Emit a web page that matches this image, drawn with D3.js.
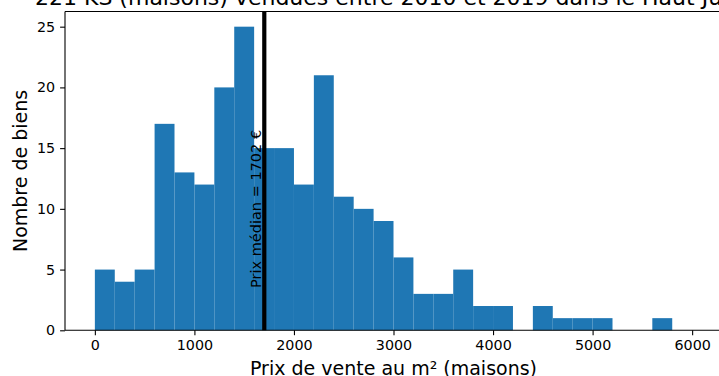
<!DOCTYPE html>
<html>
<head>
<meta charset="utf-8">
<script src="https://cdn.jsdelivr.net/npm/d3@7"></script>
<style>
    body { margin: 0; background: #ffffff; }
    svg { display: block; font-family: "DejaVu Sans", sans-serif; }
    .bar { fill: #1f77b4; }
    .spine { stroke: #000000; stroke-width: 1.1; fill: none; }
    .tick line { stroke: #000000; stroke-width: 1.1; }
    .tick text { font-size: 14.3px; fill: #000000; }
    .label { font-size: 19px; fill: #000000; }
    .median { stroke: #000000; stroke-width: 4.2; }
</style>
</head>
<body>
<div id="chart"></div>
<script>
// histogram bins (price per m², width 200) and house counts per bin
var binStarts = [0, 200, 400, 600, 800, 1000, 1200, 1400, 1600, 1800,
    2000, 2200, 2400, 2600, 2800, 3000, 3200, 3400, 3600, 3800,
    4000, 4200, 4400, 4600, 4800, 5000, 5200, 5400, 5600, 5800];
var binWidth = 200;
var counts = [5, 4, 5, 17, 13, 12, 20, 25, 15, 15,
    12, 21, 11, 10, 9, 6, 3, 3, 5, 2,
    2, 0, 2, 1, 1, 1, 0, 0, 1, 0];
var medianPrice = 1702;
var xTicks = [0, 1000, 2000, 3000, 4000, 5000, 6000];
var yTicks = [0, 5, 10, 15, 20, 25];

var titleText = '221 KS (maisons) vendues entre 2010 et 2019 dans le Haut Jura';
var xLabel = 'Prix de vente au m² (maisons)';
var yLabel = 'Nombre de biens';
var medianLabel = 'Prix médian = ' + medianPrice + ' €';

function main(domSelector) {
    var width = 719;
    var height = 376;
    // axes box; right edge falls outside the picture like in the original
    var plot = {left: 65, right: 722, top: 11.5, bottom: 330.3};

    var svg = d3.select(domSelector).append('svg')
        .attr('width', width)
        .attr('height', height);

    var xScale = d3.scaleLinear().domain([-300, 6300]).range([plot.left, plot.right]);
    var yScale = d3.scaleLinear().domain([0, 26.25]).range([plot.bottom, plot.top]);

    var bins = binStarts.map(function (x0, i) {
        return {x0: x0, x1: x0 + binWidth, n: counts[i]};
    });

    svg.selectAll('rect.bar')
        .data(bins.filter(function (d) { return d.n > 0; }))
        .enter()
        .append('rect')
        .attr('class', 'bar')
        .attr('x', function (d) { return xScale(d.x0); })
        .attr('width', function (d) { return xScale(d.x1) - xScale(d.x0); })
        .attr('y', function (d) { return yScale(d.n); })
        .attr('height', function (d) { return yScale(0) - yScale(d.n); })
    ;

    // median line + rotated label
    svg.append('line')
        .attr('class', 'median')
        .attr('x1', xScale(medianPrice)).attr('y1', plot.top)
        .attr('x2', xScale(medianPrice)).attr('y2', plot.bottom)
    ;
    svg.append('text')
        .attr('transform', 'translate(' + (xScale(medianPrice) - 3) + ',' + 288 + ') rotate(-90)')
        .style('font-size', '14.5px')
        .text(medianLabel)
    ;

    // spines
    svg.append('line').attr('class', 'spine')
        .attr('x1', plot.left).attr('y1', plot.top).attr('x2', plot.left).attr('y2', plot.bottom);
    svg.append('line').attr('class', 'spine')
        .attr('x1', plot.left).attr('y1', plot.bottom).attr('x2', plot.right).attr('y2', plot.bottom);
    svg.append('line').attr('class', 'spine')
        .attr('x1', plot.left).attr('y1', plot.top).attr('x2', plot.right).attr('y2', plot.top);

    var xAxis = svg.append('g')
        .attr('transform', 'translate(0,' + plot.bottom + ')')
        .call(d3.axisBottom(xScale).tickValues(xTicks).tickSize(4.9).tickPadding(4.9).tickFormat(d3.format('d')));
    var yAxis = svg.append('g')
        .attr('transform', 'translate(' + plot.left + ',0)')
        .call(d3.axisLeft(yScale).tickValues(yTicks).tickSize(4.9).tickPadding(4.9));
    [xAxis, yAxis].forEach(function (g) {
        g.select('.domain').remove();
        g.attr('font-family', null).attr('font-size', null);
    });

    var cx = (plot.left + plot.right) / 2;
    svg.append('text')
        .attr('class', 'label')
        .attr('x', cx).attr('y', 375)
        .attr('text-anchor', 'middle')
        .text(xLabel)
    ;
    svg.append('text')
        .attr('class', 'label')
        .attr('transform', 'translate(27,' + (plot.top + plot.bottom) / 2 + ') rotate(-90)')
        .attr('text-anchor', 'middle')
        .text(yLabel)
    ;
    // title runs off the right edge in the original, so pin its start
    svg.append('text')
        .attr('class', 'label')
        .attr('x', 35).attr('y', 4.5)
        .style('font-size', '22px')
        .text(titleText)
    ;
}

main('#chart');
</script>
</body>
</html>
